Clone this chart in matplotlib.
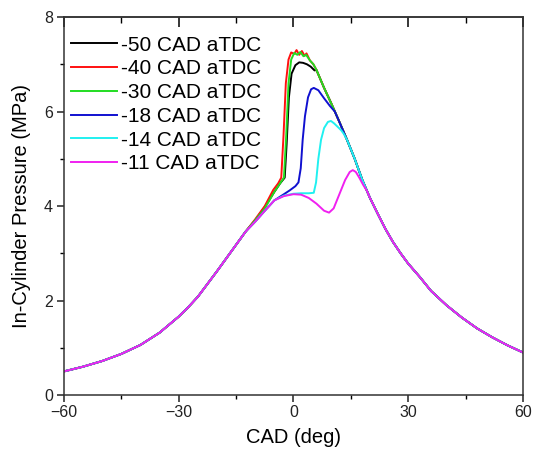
import matplotlib
matplotlib.use('Agg')
import matplotlib.pyplot as plt
from matplotlib.ticker import MultipleLocator

plt.rcParams['font.family'] = ['Liberation Sans', 'DejaVu Sans']

# 压缩段（所有曲线共用）
cad_comp = [-60, -55, -50, -45, -40, -35, -30, -27.5, -25, -22.5, -20, -17.5, -15, -12.5, -10, -7.5, -5, -2.5, 0]
p_comp = [0.50, 0.60, 0.72, 0.87, 1.06, 1.32, 1.66, 1.86, 2.08, 2.35, 2.62, 2.90, 3.18, 3.46, 3.67, 3.90, 4.12, 4.21, 4.25]

# 膨胀段（燃烧后共用包络线）
cad_exp = [6, 8, 10, 12, 14, 16, 18, 20, 22, 24, 26, 28, 30, 33, 36, 40, 44, 48, 52, 56, 60]
p_exp = [6.88, 6.50, 6.15, 5.78, 5.40, 5.00, 4.55, 4.17, 3.84, 3.52, 3.24, 3.00, 2.78, 2.50, 2.20, 1.90, 1.64, 1.41, 1.22, 1.05, 0.90]

labels = ['-50 CAD aTDC', '-40 CAD aTDC', '-30 CAD aTDC', '-18 CAD aTDC', '-14 CAD aTDC', '-11 CAD aTDC']
colors = ['#000000', '#ff1010', '#22dd22', '#1010d0', '#20f0f0', '#f020f0']

# 各曲线的燃烧段
cad_mid = [
    [-10, -7.5, -5, -3.5, -2.3, -1.8, -1.2, -0.5, 0.5, 1.5, 2.5, 3.5, 4.5, 5.5],
    [-10, -7.5, -5.3, -4, -3.2, -2.6, -2.0, -1.3, -0.6, 0.2, 0.8, 1.5, 2.2, 2.9, 3.4, 4.3, 5.2],
    [-10, -7.5, -5, -3.5, -2.5, -1.9, -1.3, -0.6, 0.2, 1.0, 1.8, 2.6, 3.3, 4.3, 5.2],
    [-2.5, -1, 0.5, 1.3, 1.9, 2.4, 3.0, 3.8, 4.6, 5.3, 6.5, 8, 9.5, 10.8],
    [-2.5, 0, 2, 4, 5.3, 5.9, 6.5, 7.2, 8.0, 9.0, 9.8, 10.6, 11.5, 12.5, 13.2],
    [2, 4, 6, 8, 9.3, 10.5, 12, 13.5, 14.7, 15.5, 16.3, 17.2, 18.2, 19.2],
]
p_mid = [
    [3.70, 3.98, 4.30, 4.48, 4.60, 5.30, 6.30, 6.80, 6.98, 7.04, 7.03, 7.00, 6.95, 6.87],
    [3.72, 4.00, 4.34, 4.48, 4.60, 5.50, 6.60, 7.10, 7.25, 7.22, 7.30, 7.20, 7.28, 7.18, 7.23, 7.08, 7.00],
    [3.70, 3.95, 4.30, 4.48, 4.60, 5.50, 6.60, 7.10, 7.24, 7.20, 7.26, 7.17, 7.20, 7.08, 7.00],
    [4.25, 4.33, 4.42, 4.50, 4.80, 5.40, 5.90, 6.30, 6.47, 6.50, 6.45, 6.28, 6.12, 6.00],
    [4.22, 4.26, 4.27, 4.27, 4.28, 4.50, 5.00, 5.40, 5.65, 5.78, 5.80, 5.75, 5.68, 5.60, 5.52],
    [4.24, 4.17, 4.05, 3.90, 3.86, 3.95, 4.25, 4.55, 4.72, 4.76, 4.72, 4.60, 4.45, 4.32],
]

fig = plt.figure(figsize=(5.36, 4.5), dpi=100)
ax = fig.add_axes([0.1194, 0.1222, 0.8563, 0.84])

for i in range(len(labels)):
    xm, ym = cad_mid[i], p_mid[i]
    xs = [c for c in cad_comp if c < xm[0]] + xm + [c for c in cad_exp if c > xm[-1]]
    ys = [p for c, p in zip(cad_comp, p_comp) if c < xm[0]] + ym + [p for c, p in zip(cad_exp, p_exp) if c > xm[-1]]
    ax.plot(xs, ys, color=colors[i], linewidth=1.4, label=labels[i])

ax.set_xlim(-60, 60)
ax.set_ylim(0, 8)
ax.xaxis.set_major_locator(MultipleLocator(30))
ax.xaxis.set_minor_locator(MultipleLocator(15))
ax.yaxis.set_major_locator(MultipleLocator(2))
ax.yaxis.set_minor_locator(MultipleLocator(1))
ax.tick_params(which='major', direction='out', length=5, width=1.1, labelsize=11.5, colors='#222222', pad=2)
ax.tick_params(which='minor', direction='out', length=3, width=1.0)
ax.tick_params(axis='y', pad=3)

top = ax.secondary_xaxis('top')
top.xaxis.set_major_locator(MultipleLocator(30))
top.xaxis.set_minor_locator(MultipleLocator(15))
top.tick_params(which='major', direction='in', length=7, width=1.1, labeltop=False)
top.tick_params(which='minor', direction='in', length=4, width=1.0)

for s in ax.spines.values():
    s.set_linewidth(1.1)
    s.set_color('#333333')
top.spines['top'].set_linewidth(1.1)
top.spines['top'].set_color('#333333')

ax.set_xlabel('CAD (deg)', fontsize=14.5, labelpad=6)
ax.set_ylabel('In-Cylinder Pressure (MPa)', fontsize=14.5, labelpad=9)

ax.legend(loc='upper left', bbox_to_anchor=(0.016, 0.951), frameon=False, fontsize=15,
          handlelength=2.2, handletextpad=0.2, labelspacing=0.23, borderpad=0, borderaxespad=0)

fig.savefig('out.png', dpi=100)
